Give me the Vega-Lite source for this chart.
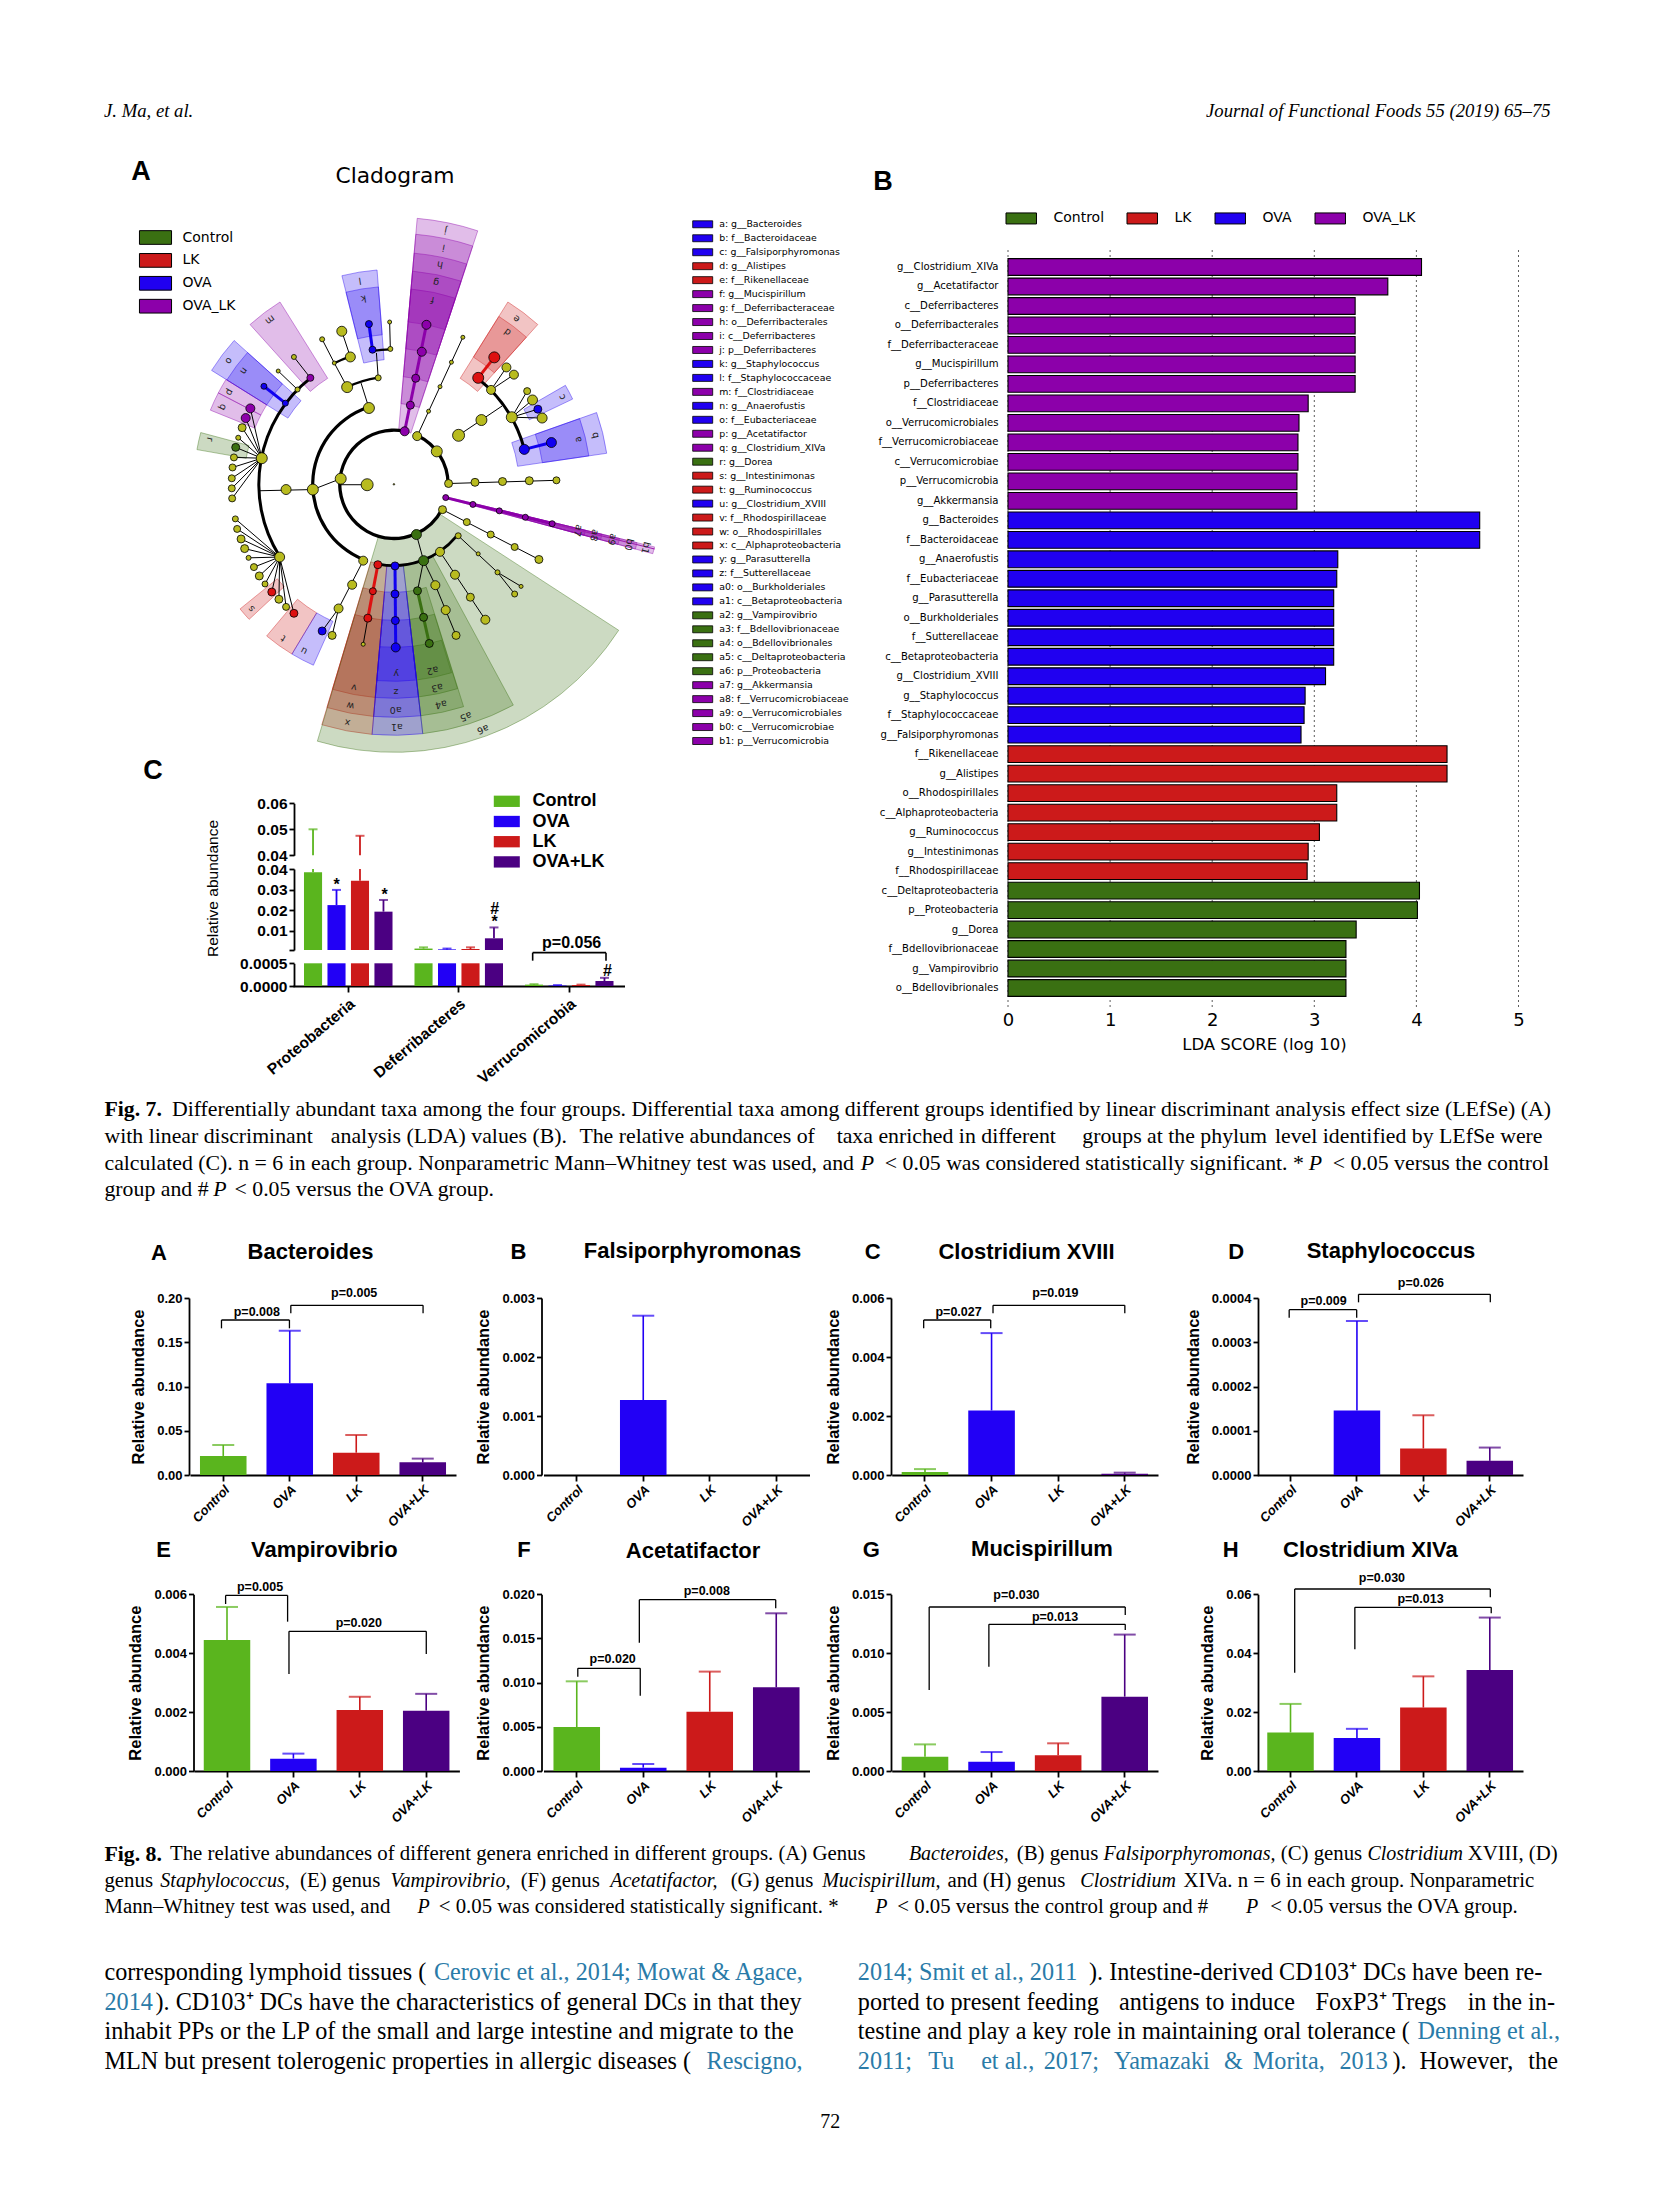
{"$schema":"https://vega.github.io/schema/vega-lite/v6.json","width":1654,"height":2205,"padding":0,"autosize":{"type":"none"},"background":"white",
"config":{"view":{"stroke":null},"axis":{"grid":false,"labelFont":"Liberation Sans","labelFontWeight":"bold","labelFontSize":13,"labelColor":"black","domainColor":"black","tickColor":"black","domainWidth":1.8,"tickWidth":1.8,"tickSize":5,"labelPadding":2,"titleFont":"Liberation Sans","titleFontWeight":"bold","titleFontSize":16.5,"titleColor":"black","titlePadding":10,"labelOverlap":false,"labelFlush":false},"legend":{"padding":0,"symbolOpacity":1}},
"resolve":{"scale":{"x":"independent","y":"independent","xOffset":"independent","color":"independent","stroke":"independent","size":"independent","theta":"independent","radius":"independent","angle":"independent"},"axis":{"x":"independent","y":"independent"},"legend":{"color":"independent"}},
"datasets":{
"fig8":[
{"panel":"A","group":"Control","mean":0.0215,"err":0.0339},{"panel":"A","group":"OVA","mean":0.1036,"err":0.163},{"panel":"A","group":"LK","mean":0.0252,"err":0.0452},{"panel":"A","group":"OVA+LK","mean":0.0143,"err":0.0185},
{"panel":"B","group":"OVA","mean":0.00127,"err":0.0027},
{"panel":"C","group":"Control","mean":0.0001,"err":0.0002},{"panel":"C","group":"OVA","mean":0.00219,"err":0.00481},{"panel":"C","group":"OVA+LK","mean":0.00004,"err":0.00008},
{"panel":"D","group":"OVA","mean":0.000146,"err":0.000348},{"panel":"D","group":"LK","mean":0.00006,"err":0.000135},{"panel":"D","group":"OVA+LK","mean":0.000032,"err":0.000062},
{"panel":"E","group":"Control","mean":0.00445,"err":0.00557},{"panel":"E","group":"OVA","mean":0.00042,"err":0.00059},{"panel":"E","group":"LK","mean":0.00207,"err":0.00252},{"panel":"E","group":"OVA+LK","mean":0.00205,"err":0.00262},
{"panel":"F","group":"Control","mean":0.00498,"err":0.01015},{"panel":"F","group":"OVA","mean":0.00038,"err":0.00079},{"panel":"F","group":"LK","mean":0.00672,"err":0.01125},{"panel":"F","group":"OVA+LK","mean":0.00947,"err":0.01785},
{"panel":"G","group":"Control","mean":0.00122,"err":0.00226},{"panel":"G","group":"OVA","mean":0.00079,"err":0.00161},{"panel":"G","group":"LK","mean":0.00133,"err":0.00235},{"panel":"G","group":"OVA+LK","mean":0.00631,"err":0.01158},
{"panel":"H","group":"Control","mean":0.01308,"err":0.02278},{"panel":"H","group":"OVA","mean":0.01117,"err":0.01432},{"panel":"H","group":"LK","mean":0.02154,"err":0.03214},{"panel":"H","group":"OVA+LK","mean":0.03429,"err":0.0521}],
"phyla":[
{"phylum":"Proteobacteria","group":"Control","mean":0.0384,"err":0.05},{"phylum":"Proteobacteria","group":"OVA","mean":0.0224,"err":0.0298},{"phylum":"Proteobacteria","group":"LK","mean":0.0343,"err":0.0475},{"phylum":"Proteobacteria","group":"OVA+LK","mean":0.0192,"err":0.0249},
{"phylum":"Deferribacteres","group":"Control","mean":0.0012,"err":0.0018},{"phylum":"Deferribacteres","group":"OVA","mean":0.0008,"err":0.0012},{"phylum":"Deferribacteres","group":"LK","mean":0.001,"err":0.0018},{"phylum":"Deferribacteres","group":"OVA+LK","mean":0.0062,"err":0.0115},
{"phylum":"Verrucomicrobia","group":"Control","mean":0.00003,"err":0.00004},{"phylum":"Verrucomicrobia","group":"OVA","mean":0.00001,"err":0.00002},{"phylum":"Verrucomicrobia","group":"LK","mean":0.00002,"err":0.00003},{"phylum":"Verrucomicrobia","group":"OVA+LK","mean":0.00011,"err":0.00018}],
"lda":[
{"taxon":"g__Clostridium_XIVa","lda":4.05,"c":"OVA_LK"},{"taxon":"g__Acetatifactor","lda":3.72,"c":"OVA_LK"},{"taxon":"c__Deferribacteres","lda":3.4,"c":"OVA_LK"},{"taxon":"o__Deferribacterales","lda":3.4,"c":"OVA_LK"},{"taxon":"f__Deferribacteraceae","lda":3.4,"c":"OVA_LK"},{"taxon":"g__Mucispirillum","lda":3.4,"c":"OVA_LK"},{"taxon":"p__Deferribacteres","lda":3.4,"c":"OVA_LK"},{"taxon":"f__Clostridiaceae","lda":2.94,"c":"OVA_LK"},{"taxon":"o__Verrucomicrobiales","lda":2.85,"c":"OVA_LK"},{"taxon":"f__Verrucomicrobiaceae","lda":2.84,"c":"OVA_LK"},{"taxon":"c__Verrucomicrobiae","lda":2.84,"c":"OVA_LK"},{"taxon":"p__Verrucomicrobia","lda":2.83,"c":"OVA_LK"},{"taxon":"g__Akkermansia","lda":2.83,"c":"OVA_LK"},
{"taxon":"g__Bacteroides","lda":4.62,"c":"OVA"},{"taxon":"f__Bacteroidaceae","lda":4.62,"c":"OVA"},{"taxon":"g__Anaerofustis","lda":3.23,"c":"OVA"},{"taxon":"f__Eubacteriaceae","lda":3.22,"c":"OVA"},{"taxon":"g__Parasutterella","lda":3.19,"c":"OVA"},{"taxon":"o__Burkholderiales","lda":3.19,"c":"OVA"},{"taxon":"f__Sutterellaceae","lda":3.19,"c":"OVA"},{"taxon":"c__Betaproteobacteria","lda":3.19,"c":"OVA"},{"taxon":"g__Clostridium_XVIII","lda":3.11,"c":"OVA"},{"taxon":"g__Staphylococcus","lda":2.91,"c":"OVA"},{"taxon":"f__Staphylococcaceae","lda":2.9,"c":"OVA"},{"taxon":"g__Falsiporphyromonas","lda":2.87,"c":"OVA"},
{"taxon":"f__Rikenellaceae","lda":4.3,"c":"LK"},{"taxon":"g__Alistipes","lda":4.3,"c":"LK"},{"taxon":"o__Rhodospirillales","lda":3.22,"c":"LK"},{"taxon":"c__Alphaproteobacteria","lda":3.22,"c":"LK"},{"taxon":"g__Ruminococcus","lda":3.05,"c":"LK"},{"taxon":"g__Intestinimonas","lda":2.94,"c":"LK"},{"taxon":"f__Rhodospirillaceae","lda":2.93,"c":"LK"},
{"taxon":"c__Deltaproteobacteria","lda":4.03,"c":"Control"},{"taxon":"p__Proteobacteria","lda":4.01,"c":"Control"},{"taxon":"g__Dorea","lda":3.41,"c":"Control"},{"taxon":"f__Bdellovibrionaceae","lda":3.31,"c":"Control"},{"taxon":"g__Vampirovibrio","lda":3.31,"c":"Control"},{"taxon":"o__Bdellovibrionales","lda":3.31,"c":"Control"}],
"taxa":[
{"t":"a: g__Bacteroides","c":"OVA"},{"t":"b: f__Bacteroidaceae","c":"OVA"},{"t":"c: g__Falsiporphyromonas","c":"OVA"},{"t":"d: g__Alistipes","c":"LK"},{"t":"e: f__Rikenellaceae","c":"LK"},{"t":"f: g__Mucispirillum","c":"OVA_LK"},{"t":"g: f__Deferribacteraceae","c":"OVA_LK"},{"t":"h: o__Deferribacterales","c":"OVA_LK"},{"t":"i: c__Deferribacteres","c":"OVA_LK"},{"t":"j: p__Deferribacteres","c":"OVA_LK"},{"t":"k: g__Staphylococcus","c":"OVA"},{"t":"l: f__Staphylococcaceae","c":"OVA"},{"t":"m: f__Clostridiaceae","c":"OVA_LK"},{"t":"n: g__Anaerofustis","c":"OVA"},{"t":"o: f__Eubacteriaceae","c":"OVA"},{"t":"p: g__Acetatifactor","c":"OVA_LK"},{"t":"q: g__Clostridium_XIVa","c":"OVA_LK"},{"t":"r: g__Dorea","c":"Control"},{"t":"s: g__Intestinimonas","c":"LK"},{"t":"t: g__Ruminococcus","c":"LK"},{"t":"u: g__Clostridium_XVIII","c":"OVA"},{"t":"v: f__Rhodospirillaceae","c":"LK"},{"t":"w: o__Rhodospirillales","c":"LK"},{"t":"x: c__Alphaproteobacteria","c":"LK"},{"t":"y: g__Parasutterella","c":"OVA"},{"t":"z: f__Sutterellaceae","c":"OVA"},{"t":"a0: o__Burkholderiales","c":"OVA"},{"t":"a1: c__Betaproteobacteria","c":"OVA"},{"t":"a2: g__Vampirovibrio","c":"Control"},{"t":"a3: f__Bdellovibrionaceae","c":"Control"},{"t":"a4: o__Bdellovibrionales","c":"Control"},{"t":"a5: c__Deltaproteobacteria","c":"Control"},{"t":"a6: p__Proteobacteria","c":"Control"},{"t":"a7: g__Akkermansia","c":"OVA_LK"},{"t":"a8: f__Verrucomicrobiaceae","c":"OVA_LK"},{"t":"a9: o__Verrucomicrobiales","c":"OVA_LK"},{"t":"b0: c__Verrucomicrobiae","c":"OVA_LK"},{"t":"b1: p__Verrucomicrobia","c":"OVA_LK"}],
"wedges":[
{"c":"LK","t1":185,"t2":196.7,"r1":81,"r2":251},{"c":"LK","t1":185,"t2":196.7,"r1":108,"r2":233},{"c":"LK","t1":185,"t2":196.7,"r1":136,"r2":214},
{"c":"Control","t1":123,"t2":196.6,"r1":54,"r2":268},{"c":"Control","t1":151.6,"t2":173.4,"r1":81,"r2":251},{"c":"Control","t1":162.6,"t2":173.4,"r1":108,"r2":233},{"c":"Control","t1":162.7,"t2":173.4,"r1":136,"r2":214},{"c":"Control","t1":163,"t2":173.4,"r1":163,"r2":197},
{"c":"OVA","t1":173.4,"t2":185,"r1":81,"r2":251},{"c":"OVA","t1":173.4,"t2":185,"r1":108,"r2":233},{"c":"OVA","t1":173.4,"t2":185,"r1":136,"r2":214},{"c":"OVA","t1":173.4,"t2":185,"r1":163,"r2":197},
{"c":"OVA_LK","t1":5,"t2":18.3,"r1":54,"r2":267},{"c":"OVA_LK","t1":5,"t2":18.3,"r1":81,"r2":251},{"c":"OVA_LK","t1":5,"t2":18.3,"r1":108,"r2":232},{"c":"OVA_LK","t1":5,"t2":18.3,"r1":136,"r2":214},{"c":"OVA_LK","t1":5,"t2":18.3,"r1":163,"r2":196},
{"c":"LK","t1":32,"t2":42,"r1":125,"r2":215},{"c":"LK","t1":32,"t2":42,"r1":150,"r2":198},
{"c":"OVA","t1":-14,"t2":-4.5,"r1":125,"r2":215},{"c":"OVA","t1":-14,"t2":-4.5,"r1":150,"r2":198},
{"c":"OVA_LK","t1":-42,"t2":-32,"r1":125,"r2":215},
{"c":"OVA","t1":-58,"t2":-48,"r1":125,"r2":215},{"c":"OVA","t1":-58,"t2":-48,"r1":150,"r2":197},
{"c":"OVA_LK","t1":-62.5,"t2":-58,"r1":150,"r2":198},{"c":"OVA_LK","t1":-68,"t2":-62.5,"r1":150,"r2":198},
{"c":"Control","t1":-80,"t2":-75,"r1":150,"r2":200},
{"c":"LK","t1":227,"t2":231,"r1":150,"r2":198},{"c":"LK","t1":211,"t2":220,"r1":150,"r2":198},{"c":"OVA","t1":204,"t2":211,"r1":150,"r2":198},
{"c":"OVA","t1":60,"t2":64.5,"r1":150,"r2":198},
{"c":"OVA","t1":70.5,"t2":81.7,"r1":125,"r2":215},{"c":"OVA","t1":70.5,"t2":81.7,"r1":150,"r2":197},
{"c":"OVA_LK","t1":103.5,"t2":105,"r1":54,"r2":268},{"c":"OVA_LK","t1":103.5,"t2":105,"r1":81,"r2":250},{"c":"OVA_LK","t1":103.5,"t2":105,"r1":108,"r2":232},{"c":"OVA_LK","t1":103.5,"t2":105,"r1":136,"r2":214},{"c":"OVA_LK","t1":103.5,"t2":105,"r1":163,"r2":197}],
"rings":[
{"t1":156,"t2":371,"r1":52.5,"r2":55.8},{"t1":117,"t2":156,"r1":52.5,"r2":55.8},{"t1":25.6,"t2":90,"r1":52.5,"r2":55.8},
{"t1":202,"t2":341,"r1":79.6,"r2":82.8},{"t1":130,"t2":191,"r1":79.8,"r2":82.6},
{"t1":238,"t2":322,"r1":133.6,"r2":136.6},{"t1":38,"t2":75,"r1":133.6,"r2":136.6},
{"t1":-25.7,"t2":-8.4,"r1":106.6,"r2":109},{"t1":-9,"t2":-1.5,"r1":134,"r2":136.2},{"t1":-26,"t2":-19,"r1":134,"r2":136.2}],
"edges":[
{"x":832,"y":737,"x2":960,"y2":491},{"x":948,"y":735,"x2":1070,"y2":662},{"x":1097,"y":690,"x2":1140,"y2":625},{"x":1097,"y":690,"x2":1155,"y2":647},{"x":1097,"y":690,"x2":1170,"y2":670},{"x":1097,"y":690,"x2":1182,"y2":692},{"x":1039,"y":622,"x2":1082,"y2":566},{"x":1039,"y":622,"x2":1103,"y2":584},{"x":1003,"y":592,"x2":1039,"y2":622},
{"x":920,"y":855,"x2":1222,"y2":847},{"x":903,"y":920,"x2":1173,"y2":1044},{"x":947,"y":985,"x2":1057,"y2":1076},{"x":1057,"y":1076,"x2":1105,"y2":1130},{"x":1057,"y":1076,"x2":1123,"y2":1111},{"x":896,"y":1025,"x2":1023,"y2":1194},{"x":883,"y":1108,"x2":941,"y2":1233},{"x":850,"y":1047,"x2":883,"y2":1108},{"x":830,"y":982,"x2":850,"y2":1047},{"x":850,"y":1047,"x2":833,"y2":1122},
{"x":681,"y":1047,"x2":612,"y2":1166},{"x":612,"y":1166,"x2":566,"y2":1222},{"x":612,"y":1166,"x2":594,"y2":1233},{"x":694,"y":1190,"x2":681,"y2":1255},
{"x":397,"y":792,"x2":342,"y2":716},{"x":397,"y":792,"x2":331,"y2":741},{"x":397,"y":792,"x2":324,"y2":765},{"x":397,"y":792,"x2":319,"y2":790},{"x":397,"y":792,"x2":315,"y2":815},{"x":397,"y":792,"x2":313,"y2":842},{"x":397,"y":792,"x2":313,"y2":867},{"x":397,"y":792,"x2":314,"y2":892},{"x":397,"y":792,"x2":352,"y2":692},{"x":397,"y":792,"x2":365,"y2":668},
{"x":390,"y":873,"x2":540,"y2":870},{"x":540,"y":870,"x2":618,"y2":843},{"x":618,"y":858,"x2":692,"y2":858},
{"x":447,"y":1038,"x2":323,"y2":943},{"x":447,"y":1038,"x2":328,"y2":968},{"x":447,"y":1038,"x2":339,"y2":993},{"x":447,"y":1038,"x2":349,"y2":1017},{"x":447,"y":1038,"x2":360,"y2":1040},{"x":447,"y":1038,"x2":375,"y2":1063},{"x":447,"y":1038,"x2":390,"y2":1085},{"x":447,"y":1038,"x2":406,"y2":1105},{"x":447,"y":1038,"x2":425,"y2":1125},{"x":447,"y":1038,"x2":445,"y2":1143},{"x":447,"y":1038,"x2":465,"y2":1162},{"x":447,"y":1038,"x2":487,"y2":1178},
{"x":497,"y":621,"x2":443,"y2":575},{"x":533,"y":592,"x2":487,"y2":540},{"x":497,"y":621,"x2":463,"y2":655},{"x":697,"y":667,"x2":675,"y2":605},{"x":723,"y":592,"x2":718,"y2":530},{"x":757,"y":520,"x2":755,"y2":453},{"x":636,"y":615,"x2":600,"y2":555},{"x":600,"y":555,"x2":566,"y2":496},{"x":645,"y":540,"x2":621,"y2":476}],
"thick":[
{"c":"OVA_LK","x":797,"y":725,"x2":858,"y2":460},{"c":"OVA_LK","x":912,"y":890,"x2":1210,"y2":955},{"c":"LK","x":722,"y":1057,"x2":694,"y2":1190},{"c":"OVA","x":770,"y":1060,"x2":772,"y2":1263},{"c":"Control","x":833,"y":1122,"x2":866,"y2":1253},{"c":"LK","x":1003,"y":592,"x2":1048,"y2":541},{"c":"OVA","x":1132,"y":770,"x2":1208,"y2":753},{"c":"OVA","x":403,"y":613,"x2":463,"y2":655},{"c":"OVA","x":697,"y":458,"x2":707,"y2":522}],
"nodes":[
{"x":767,"y":857,"d":1.5,"c":"none"},{"x":692,"y":858,"d":12,"c":"none"},{"x":618,"y":843,"d":11,"c":"none"},{"x":540,"y":870,"d":11,"c":"none"},{"x":465,"y":870,"d":10,"c":"none"},{"x":397,"y":792,"d":11,"c":"none"},{"x":342,"y":716,"d":8,"c":"none"},{"x":331,"y":741,"d":5,"c":"none"},{"x":319,"y":790,"d":7,"c":"none"},{"x":315,"y":815,"d":7,"c":"none"},{"x":313,"y":842,"d":7,"c":"none"},{"x":313,"y":867,"d":7,"c":"none"},{"x":314,"y":892,"d":7,"c":"none"},{"x":323,"y":943,"d":6,"c":"none"},{"x":328,"y":968,"d":7,"c":"none"},{"x":339,"y":993,"d":8,"c":"none"},{"x":349,"y":1017,"d":8,"c":"none"},{"x":360,"y":1040,"d":5,"c":"none"},{"x":375,"y":1063,"d":7,"c":"none"},{"x":390,"y":1085,"d":8,"c":"none"},{"x":406,"y":1105,"d":6,"c":"none"},{"x":445,"y":1143,"d":8,"c":"none"},{"x":465,"y":1162,"d":7,"c":"none"},{"x":447,"y":1038,"d":10,"c":"none"},{"x":681,"y":1047,"d":9,"c":"none"},{"x":650,"y":1107,"d":9,"c":"none"},{"x":612,"y":1166,"d":9,"c":"none"},{"x":594,"y":1233,"d":8,"c":"none"},{"x":681,"y":1255,"d":4,"c":"none"},{"x":497,"y":621,"d":5,"c":"none"},{"x":443,"y":575,"d":4,"c":"none"},{"x":487,"y":540,"d":5,"c":"none"},{"x":697,"y":667,"d":11,"c":"none"},{"x":636,"y":615,"d":11,"c":"none"},{"x":723,"y":592,"d":6,"c":"none"},{"x":600,"y":555,"d":4,"c":"none"},{"x":566,"y":496,"d":5,"c":"none"},{"x":645,"y":540,"d":10,"c":"none"},{"x":621,"y":476,"d":10,"c":"none"},{"x":757,"y":520,"d":5,"c":"none"},{"x":755,"y":453,"d":4,"c":"none"},{"x":832,"y":737,"d":9,"c":"none"},{"x":864,"y":675,"d":4,"c":"none"},{"x":896,"y":614,"d":4,"c":"none"},{"x":928,"y":553,"d":4,"c":"none"},{"x":960,"y":491,"d":4,"c":"none"},{"x":887,"y":775,"d":11,"c":"none"},{"x":948,"y":735,"d":12,"c":"none"},{"x":1012,"y":697,"d":11,"c":"none"},{"x":1097,"y":690,"d":11,"c":"none"},{"x":1039,"y":622,"d":9,"c":"none"},{"x":1082,"y":566,"d":9,"c":"none"},{"x":1103,"y":584,"d":9,"c":"none"},{"x":1140,"y":625,"d":7,"c":"none"},{"x":1155,"y":647,"d":10,"c":"none"},{"x":1182,"y":692,"d":10,"c":"none"},{"x":920,"y":855,"d":8,"c":"none"},{"x":994,"y":852,"d":8,"c":"none"},{"x":1071,"y":850,"d":8,"c":"none"},{"x":1146,"y":848,"d":8,"c":"none"},{"x":1222,"y":847,"d":7,"c":"none"},{"x":903,"y":920,"d":8,"c":"none"},{"x":971,"y":951,"d":7,"c":"none"},{"x":1038,"y":982,"d":7,"c":"none"},{"x":1105,"y":1013,"d":7,"c":"none"},{"x":1173,"y":1044,"d":8,"c":"none"},{"x":896,"y":1025,"d":9,"c":"none"},{"x":947,"y":985,"d":6,"c":"none"},{"x":1003,"y":1030,"d":4,"c":"none"},{"x":1057,"y":1076,"d":5,"c":"none"},{"x":1105,"y":1130,"d":6,"c":"none"},{"x":1123,"y":1111,"d":4,"c":"none"},{"x":938,"y":1082,"d":9,"c":"none"},{"x":981,"y":1138,"d":8,"c":"none"},{"x":1023,"y":1194,"d":9,"c":"none"},{"x":883,"y":1108,"d":9,"c":"none"},{"x":912,"y":1170,"d":9,"c":"none"},{"x":941,"y":1233,"d":8,"c":"none"},
{"x":830,"y":982,"d":10,"c":"Control"},{"x":850,"y":1047,"d":10,"c":"Control"},{"x":833,"y":1122,"d":8,"c":"Control"},{"x":850,"y":1188,"d":8,"c":"Control"},{"x":866,"y":1253,"d":8,"c":"Control"},{"x":324,"y":765,"d":8,"c":"Control"},
{"x":722,"y":1057,"d":8,"c":"LK"},{"x":708,"y":1123,"d":7,"c":"LK"},{"x":694,"y":1190,"d":8,"c":"LK"},{"x":1003,"y":592,"d":11,"c":"LK"},{"x":1048,"y":541,"d":11,"c":"LK"},{"x":425,"y":1125,"d":8,"c":"LK"},{"x":487,"y":1178,"d":8,"c":"LK"},
{"x":770,"y":1060,"d":8,"c":"OVA"},{"x":770,"y":1130,"d":8,"c":"OVA"},{"x":771,"y":1196,"d":8,"c":"OVA"},{"x":772,"y":1263,"d":9,"c":"OVA"},{"x":1132,"y":770,"d":10,"c":"OVA"},{"x":1208,"y":753,"d":10,"c":"OVA"},{"x":1170,"y":670,"d":8,"c":"OVA"},{"x":463,"y":655,"d":6,"c":"OVA"},{"x":403,"y":613,"d":6,"c":"OVA"},{"x":697,"y":458,"d":7,"c":"OVA"},{"x":707,"y":522,"d":7,"c":"OVA"},{"x":566,"y":1222,"d":8,"c":"OVA"},
{"x":797,"y":725,"d":9,"c":"OVA_LK"},{"x":813,"y":660,"d":8,"c":"OVA_LK"},{"x":828,"y":593,"d":8,"c":"OVA_LK"},{"x":845,"y":527,"d":9,"c":"OVA_LK"},{"x":858,"y":460,"d":9,"c":"OVA_LK"},{"x":912,"y":890,"d":6,"c":"OVA_LK"},{"x":988,"y":907,"d":6,"c":"OVA_LK"},{"x":1062,"y":923,"d":6,"c":"OVA_LK"},{"x":1135,"y":939,"d":6,"c":"OVA_LK"},{"x":1210,"y":955,"d":6,"c":"OVA_LK"},{"x":533,"y":592,"d":7,"c":"OVA_LK"},{"x":365,"y":668,"d":9,"c":"OVA_LK"},{"x":352,"y":692,"d":9,"c":"OVA_LK"}],
"wlabels":[
{"t":"j","x":912,"y":225,"th":11},{"t":"i","x":906,"y":268,"th":11},{"t":"h","x":896,"y":310,"th":11},{"t":"g","x":885,"y":355,"th":11},{"t":"f","x":875,"y":398,"th":11},{"t":"e","x":1110,"y":445,"th":37},{"t":"d","x":1085,"y":478,"th":37},{"t":"l","x":672,"y":350,"th":-9},{"t":"k","x":682,"y":395,"th":-9},{"t":"m","x":420,"y":448,"th":-37},{"t":"n","x":347,"y":575,"th":-53},{"t":"o","x":305,"y":550,"th":-53},{"t":"p","x":307,"y":628,"th":-60},{"t":"q","x":288,"y":665,"th":-65},{"t":"r","x":252,"y":745,"th":-78},{"t":"c","x":1238,"y":640,"th":62},{"t":"a","x":1283,"y":745,"th":76},{"t":"b","x":1330,"y":735,"th":76},{"t":"s","x":368,"y":1167,"th":229},{"t":"t","x":457,"y":1240,"th":216},{"t":"u","x":515,"y":1272,"th":208},{"t":"v","x":655,"y":1363,"th":191},{"t":"w","x":645,"y":1408,"th":191},{"t":"x","x":637,"y":1450,"th":191},{"t":"y","x":773,"y":1328,"th":180},{"t":"z","x":773,"y":1373,"th":180},{"t":"a0","x":772,"y":1418,"th":180},{"t":"a1","x":775,"y":1462,"th":180},{"t":"a2","x":875,"y":1320,"th":168},{"t":"a3","x":888,"y":1363,"th":168},{"t":"a4","x":899,"y":1405,"th":168},{"t":"a5","x":968,"y":1435,"th":162},{"t":"a6","x":1016,"y":1467,"th":160},{"t":"a7","x":1282,"y":972,"th":104},{"t":"a8","x":1328,"y":984,"th":104},{"t":"a9","x":1378,"y":994,"th":104},{"t":"b0","x":1425,"y":1007,"th":104},{"t":"b1","x":1472,"y":1015,"th":104}]
},
"layer":[
{"data":{"values":[{"x":104,"y":111,"t":"J. Ma, et al."},{"x":1206,"y":111,"t":"Journal of Functional Foods 55 (2019) 65–75"}]},"mark":{"type":"text","font":"Liberation Serif","fontStyle":"italic","fontSize":18.7,"align":"left","baseline":"middle","color":"black"},"encoding":{"x":{"field":"x","type":"quantitative","scale":{"domain":[0,1654],"range":[0,1654]},"axis":null},"y":{"field":"y","type":"quantitative","scale":{"domain":[0,2205],"range":[0,2205]},"axis":null},"text":{"field":"t"}}},
{"data":{"values":[{"x":141,"y":172,"t":"A"},{"x":883,"y":182,"t":"B"},{"x":153,"y":771,"t":"C"}]},"mark":{"type":"text","font":"Liberation Sans","fontWeight":"bold","fontSize":27,"align":"center","baseline":"middle","color":"black"},"encoding":{"x":{"field":"x","type":"quantitative","scale":{"domain":[0,1654],"range":[0,1654]},"axis":null},"y":{"field":"y","type":"quantitative","scale":{"domain":[0,2205],"range":[0,2205]},"axis":null},"text":{"field":"t"}}},
{"data":{"values":[{"x":395,"y":176,"t":"Cladogram"}]},"mark":{"type":"text","font":"DejaVu Sans","fontSize":21.8,"align":"center","baseline":"middle","color":"black"},"encoding":{"x":{"field":"x","type":"quantitative","scale":{"domain":[0,1654],"range":[0,1654]},"axis":null},"y":{"field":"y","type":"quantitative","scale":{"domain":[0,2205],"range":[0,2205]},"axis":null},"text":{"field":"t"}}},
{"data":{"values":[{"x":159,"y":1253,"t":"A"},{"x":518.5,"y":1252,"t":"B"},{"x":872.7,"y":1252,"t":"C"},{"x":1236.3,"y":1252,"t":"D"},{"x":163.6,"y":1550,"t":"E"},{"x":524,"y":1550,"t":"F"},{"x":871.3,"y":1550,"t":"G"},{"x":1230.8,"y":1550,"t":"H"},{"x":310.5,"y":1252,"t":"Bacteroides"},{"x":692.5,"y":1251,"t":"Falsiporphyromonas"},{"x":1026.5,"y":1252,"t":"Clostridium XVIII"},{"x":1391,"y":1251,"t":"Staphylococcus"},{"x":324.3,"y":1550,"t":"Vampirovibrio"},{"x":693,"y":1551,"t":"Acetatifactor"},{"x":1042,"y":1549,"t":"Mucispirillum"},{"x":1370.4,"y":1550,"t":"Clostridium XIVa"}]},"mark":{"type":"text","font":"Liberation Sans","fontWeight":"bold","fontSize":22,"align":"center","baseline":"middle","color":"black"},"encoding":{"x":{"field":"x","type":"quantitative","scale":{"domain":[0,1654],"range":[0,1654]},"axis":null},"y":{"field":"y","type":"quantitative","scale":{"domain":[0,2205],"range":[0,2205]},"axis":null},"text":{"field":"t"}}},

{"data":{"name":"wedges"},"mark":{"type":"arc","fillOpacity":0.26,"strokeOpacity":0.4,"strokeWidth":1},"encoding":{"x":{"datum":767,"type":"quantitative","scale":{"domain":[0,1568],"range":[120,680]},"axis":null},"y":{"datum":857,"type":"quantitative","scale":{"domain":[0,1568],"range":[140,770]},"axis":null},"theta":{"field":"t1","type":"quantitative","stack":null,"scale":{"domain":[0,360],"range":[0,6.28319]}},"theta2":{"field":"t2"},"radius":{"field":"r1","type":"quantitative","scale":{"type":"linear","domain":[0,400],"range":[0,400]}},"radius2":{"field":"r2"},"color":{"field":"c","type":"nominal","scale":{"domain":["Control","LK","OVA","OVA_LK"],"range":["#3a7012","#cc1a1a","#2000f0","#8c00aa"]},"legend":null},"stroke":{"field":"c","type":"nominal","scale":{"domain":["Control","LK","OVA","OVA_LK"],"range":["#3a7012","#cc1a1a","#2000f0","#8c00aa"]},"legend":null}}},
{"data":{"name":"rings"},"mark":{"type":"arc","color":"black"},"encoding":{"x":{"datum":767,"type":"quantitative","scale":{"domain":[0,1568],"range":[120,680]},"axis":null},"y":{"datum":857,"type":"quantitative","scale":{"domain":[0,1568],"range":[140,770]},"axis":null},"theta":{"field":"t1","type":"quantitative","stack":null,"scale":{"domain":[0,360],"range":[0,6.28319]}},"theta2":{"field":"t2"},"radius":{"field":"r1","type":"quantitative","scale":{"type":"linear","domain":[0,400],"range":[0,400]}},"radius2":{"field":"r2"}}},
{"data":{"name":"edges"},"mark":{"type":"rule","color":"black","strokeWidth":1},"encoding":{"x":{"field":"x","type":"quantitative","scale":{"domain":[0,1568],"range":[120,680]},"axis":null},"y":{"field":"y","type":"quantitative","scale":{"domain":[0,1568],"range":[140,770]},"axis":null},"x2":{"field":"x2"},"y2":{"field":"y2"}}},
{"data":{"values":[{"x":1210,"y":955,"x2":1497,"y2":1018}]},"mark":{"type":"rule","color":"#a020b0","strokeWidth":1.2},"encoding":{"x":{"field":"x","type":"quantitative","scale":{"domain":[0,1568],"range":[120,680]},"axis":null},"y":{"field":"y","type":"quantitative","scale":{"domain":[0,1568],"range":[140,770]},"axis":null},"x2":{"field":"x2"},"y2":{"field":"y2"}}},
{"data":{"name":"thick"},"mark":{"type":"rule","strokeWidth":3},"encoding":{"x":{"field":"x","type":"quantitative","scale":{"domain":[0,1568],"range":[120,680]},"axis":null},"y":{"field":"y","type":"quantitative","scale":{"domain":[0,1568],"range":[140,770]},"axis":null},"x2":{"field":"x2"},"y2":{"field":"y2"},"color":{"field":"c","type":"nominal","scale":{"domain":["Control","LK","OVA","OVA_LK"],"range":["#3a7012","#dd1111","#1000f0","#8c00aa"]},"legend":null}}},
{"data":{"name":"nodes"},"mark":{"type":"point","filled":true,"opacity":1,"stroke":"black","strokeWidth":0.8},"encoding":{"x":{"field":"x","type":"quantitative","scale":{"domain":[0,1568],"range":[120,680]},"axis":null},"y":{"field":"y","type":"quantitative","scale":{"domain":[0,1568],"range":[140,770]},"axis":null},"size":{"field":"d","type":"quantitative","scale":{"type":"pow","exponent":2,"domain":[0,20],"range":[0,400]},"legend":null},"color":{"field":"c","type":"nominal","scale":{"domain":["Control","LK","OVA","OVA_LK","none"],"range":["#3a7012","#dd1111","#1000f0","#8c00aa","#b8bb1f"]},"legend":null},"shape":{"value":"circle"}}},
{"data":{"name":"wlabels"},"mark":{"type":"text","font":"DejaVu Sans","fontSize":9.5,"align":"center","baseline":"middle","color":"#222222"},"encoding":{"x":{"field":"x","type":"quantitative","scale":{"domain":[0,1568],"range":[120,680]},"axis":null},"y":{"field":"y","type":"quantitative","scale":{"domain":[0,1568],"range":[140,770]},"axis":null},"text":{"field":"t"},"angle":{"field":"th","type":"quantitative","scale":{"domain":[-90,90,90.01,270],"range":[90,270,90,270]}}}},

{"data":{"name":"taxa"},"encoding":{"y":{"field":"t","type":"nominal","sort":null,"scale":{"type":"band","range":[217.3,748],"paddingInner":0.5,"paddingOuter":0.25},"axis":null},"x":{"datum":1,"type":"quantitative","scale":{"domain":[0,1],"range":[692.7,712.7]},"axis":null}},"layer":[
{"mark":{"type":"bar","stroke":"black","strokeWidth":0.8},"encoding":{"color":{"field":"c","type":"nominal","scale":{"domain":["Control","LK","OVA","OVA_LK"],"range":["#3a7012","#cc1a1a","#2000f0","#8c00aa"]},"legend":{"orient":"none","legendX":148,"legendY":230,"title":null,"symbolType":"M-2.34,-1H2.34V1H-2.34Z","symbolSize":188,"symbolStrokeColor":"black","symbolStrokeWidth":1,"labelFont":"DejaVu Sans","labelFontSize":14,"labelColor":"black","labelOffset":19.5,"rowPadding":3.9}}}},
{"mark":{"type":"text","font":"DejaVu Sans","fontSize":9.4,"align":"left","baseline":"middle","dx":6.5,"color":"black"},"encoding":{"text":{"field":"t"}}}]},

{"data":{"values":[{"v":0},{"v":1},{"v":2},{"v":3},{"v":4},{"v":5}]},"mark":{"type":"rule","color":"#333333","strokeWidth":0.8,"strokeDash":[2,3]},"encoding":{"x":{"field":"v","type":"quantitative","scale":{"domain":[0,5],"range":[1008,1518.5]},"axis":{"orient":"bottom","offset":-1198,"title":"LDA SCORE (log 10)","titleX":1264,"values":[0,1,2,3,4,5],"format":"d","domain":false,"ticks":false,"labelFont":"DejaVu Sans","labelFontWeight":"normal","labelFontSize":18,"labelPadding":4,"titleFont":"DejaVu Sans","titleFontWeight":"normal","titleFontSize":16.5,"titlePadding":7}},"y":{"datum":0,"type":"quantitative","scale":{"domain":[0,1],"range":[1007,248]},"axis":null},"y2":{"datum":1}}},
{"data":{"name":"lda"},"mark":{"type":"bar","stroke":"black","strokeWidth":1.1},"encoding":{"x":{"field":"lda","type":"quantitative","stack":null,"scale":{"domain":[0,5],"range":[1008,1518.5]},"axis":null},"y":{"field":"taxon","type":"nominal","sort":null,"scale":{"type":"band","range":[257.25,997.75],"paddingInner":0.14,"paddingOuter":0.07},"axis":{"orient":"left","offset":-1008,"title":null,"domain":false,"ticks":false,"labelPadding":10,"labelFont":"DejaVu Sans","labelFontWeight":"normal","labelFontSize":10.1}},"color":{"field":"c","type":"nominal","scale":{"domain":["Control","LK","OVA","OVA_LK"],"range":["#3a7012","#cc1a1a","#2000f0","#8c00aa"]},"legend":{"orient":"none","legendX":1014.25,"legendY":211.2,"title":null,"direction":"horizontal","columns":4,"columnPadding":20,"symbolType":"M-2.77,-1H2.77V1H-2.77Z","symbolSize":121,"symbolStrokeColor":"black","symbolStrokeWidth":1,"labelFont":"DejaVu Sans","labelFontSize":14,"labelColor":"black","labelOffset":25.2}}}},

{"data":{"name":"phyla"},"encoding":{"x":{"field":"phylum","type":"nominal","sort":null,"scale":{"type":"band","domain":["Proteobacteria","Deferribacteres","Verrucomicrobia"],"range":[293,624.5],"paddingInner":0.15,"paddingOuter":0.075},"axis":null},"xOffset":{"field":"group","type":"nominal","scale":{"domain":["Control","OVA","LK","OVA+LK"],"paddingInner":0.23,"paddingOuter":0.115}},"color":{"field":"group","type":"nominal","scale":{"domain":["Control","OVA","LK","OVA+LK"],"range":["#5ab51e","#2200f5","#cc1a1a","#4b0082"]},"legend":null},"y":{"field":"mean","type":"quantitative","scale":{"domain":[0.04,0.06],"range":[855.3,803.3],"clamp":true},"axis":{"orient":"left","offset":-294,"title":null,"values":[0.04,0.05,0.06],"format":".2f","labelFontSize":15.5}}},"layer":[
{"transform":[{"filter":"datum.err>0.04"}],"mark":{"type":"rule","strokeWidth":1.8},"encoding":{"y2":{"field":"err"}}},
{"transform":[{"filter":"datum.err>0.04"}],"mark":{"type":"tick","size":9,"thickness":2},"encoding":{"y":{"field":"err","type":"quantitative","scale":{"domain":[0.04,0.06],"range":[855.3,803.3],"clamp":true},"axis":{"orient":"left","offset":-294,"title":null,"values":[0.04,0.05,0.06],"format":".2f","labelFontSize":15.5}}}}]},
{"data":{"name":"phyla"},"encoding":{"x":{"field":"phylum","type":"nominal","sort":null,"scale":{"type":"band","domain":["Proteobacteria","Deferribacteres","Verrucomicrobia"],"range":[293,624.5],"paddingInner":0.15,"paddingOuter":0.075},"axis":null},"xOffset":{"field":"group","type":"nominal","scale":{"domain":["Control","OVA","LK","OVA+LK"],"paddingInner":0.23,"paddingOuter":0.115}},"color":{"field":"group","type":"nominal","scale":{"domain":["Control","OVA","LK","OVA+LK"],"range":["#5ab51e","#2200f5","#cc1a1a","#4b0082"]},"legend":null},"y":{"field":"mean","type":"quantitative","scale":{"domain":[0.0005,0.04],"range":[950,869],"clamp":true},"axis":{"orient":"left","offset":-294,"title":"Relative abundance","titleFontWeight":"normal","titleFontSize":15.5,"titleY":888,"titlePadding":36,"values":[0.0005,0.01,0.02,0.03,0.04],"labelExpr":"datum.value<0.005?'':format(datum.value,'.2f')","labelFontSize":15.5}}},"layer":[
{"transform":[{"filter":"datum.err>0.0005"}],"mark":{"type":"rule","strokeWidth":1.8},"encoding":{"y2":{"field":"err"}}},
{"transform":[{"filter":"datum.err>0.0005&&datum.err<=0.04"}],"mark":{"type":"tick","size":9,"thickness":2},"encoding":{"y":{"field":"err","type":"quantitative","scale":{"domain":[0.0005,0.04],"range":[950,869],"clamp":true},"axis":{"orient":"left","offset":-294,"title":"Relative abundance","titleFontWeight":"normal","titleFontSize":15.5,"titleY":888,"titlePadding":36,"values":[0.0005,0.01,0.02,0.03,0.04],"labelExpr":"datum.value<0.005?'':format(datum.value,'.2f')","labelFontSize":15.5}}}},
{"transform":[{"filter":"datum.mean>0.0005"}],"mark":{"type":"bar"},"encoding":{"y2":{"datum":0.0005}}}]},
{"data":{"name":"phyla"},"encoding":{"x":{"field":"phylum","type":"nominal","sort":null,"scale":{"type":"band","domain":["Proteobacteria","Deferribacteres","Verrucomicrobia"],"range":[293,624.5],"paddingInner":0.15,"paddingOuter":0.075},"axis":{"orient":"bottom","offset":-1219,"title":null,"labelAngle":-40,"labelFontSize":15.5,"tickSize":6,"labelPadding":4}},"xOffset":{"field":"group","type":"nominal","scale":{"domain":["Control","OVA","LK","OVA+LK"],"paddingInner":0.23,"paddingOuter":0.115}},"color":{"field":"group","type":"nominal","scale":{"domain":["Control","OVA","LK","OVA+LK"],"range":["#5ab51e","#2200f5","#cc1a1a","#4b0082"]},"legend":{"orient":"none","legendX":497.8,"legendY":792.3,"title":null,"symbolType":"M-2.3,-1H2.3V1H-2.3Z","symbolSize":128,"symbolStrokeWidth":0,"labelFont":"Liberation Sans","labelFontWeight":"bold","labelFontSize":18,"labelColor":"black","labelOffset":16.6,"rowPadding":2.2}},"y":{"field":"mean","type":"quantitative","scale":{"domain":[0,0.0005],"range":[986,963.3],"clamp":true},"axis":{"orient":"left","offset":-294,"title":null,"values":[0,0.0005],"format":".4f","labelFontSize":15.5}}},"layer":[
{"transform":[{"filter":"datum.err<=0.0005"}],"mark":{"type":"rule","strokeWidth":1.8},"encoding":{"y2":{"field":"err"}}},
{"transform":[{"filter":"datum.err<=0.0005"}],"mark":{"type":"tick","size":9,"thickness":2},"encoding":{"y":{"field":"err","type":"quantitative","scale":{"domain":[0,0.0005],"range":[986,963.3],"clamp":true},"axis":{"orient":"left","offset":-294,"title":null,"values":[0,0.0005],"format":".4f","labelFontSize":15.5}}}},
{"mark":{"type":"bar"},"encoding":{"y2":{"datum":0}}}]},
{"encoding":{"x":{"field":"x","type":"quantitative","scale":{"domain":[0,1560],"range":[130,650]},"axis":null},"y":{"field":"y","type":"quantitative","scale":{"domain":[0,1020],"range":[750,1090]},"axis":null}},"layer":[
{"data":{"values":[{"x":1208,"y":632,"x2":1208,"y2":608},{"x":1208,"y":608,"x2":1428,"y2":608},{"x":1428,"y":608,"x2":1428,"y2":632}]},"mark":{"type":"rule","color":"black","strokeWidth":1.6},"encoding":{"x2":{"field":"x2"},"y2":{"field":"y2"}}},
{"data":{"values":[{"x":620,"y":404,"t":"*"},{"x":764,"y":434,"t":"*"},{"x":1094,"y":478,"t":"#"},{"x":1094,"y":516,"t":"*"},{"x":1325,"y":580,"t":"p=0.056"},{"x":1432,"y":663,"t":"#"}]},"mark":{"type":"text","font":"Liberation Sans","fontWeight":"bold","fontSize":16,"align":"center","baseline":"middle","color":"black"},"encoding":{"text":{"field":"t"}}}]},

{"data":{"name":"fig8"},"transform":[{"filter":"datum.panel==='A'"}],"encoding":{"x":{"field":"group","type":"nominal","scale":{"type":"band","domain":["Control","OVA","LK","OVA+LK"],"range":[190,456],"paddingInner":0.3,"paddingOuter":0.15},"axis":{"orient":"bottom","offset":-730,"title":null,"labelAngle":-45,"labelFontStyle":"italic","labelFontSize":13,"tickSize":6}},"y":{"field":"mean","type":"quantitative","stack":null,"scale":{"domain":[0,0.2],"range":[1475,1298]},"axis":{"orient":"left","offset":-189,"title":"Relative abundance","values":[0,0.05,0.1,0.15,0.2],"format":".2f"}},"color":{"field":"group","type":"nominal","scale":{"domain":["Control","OVA","LK","OVA+LK"],"range":["#5ab51e","#2200f5","#cc1a1a","#4b0082"]},"legend":null}},"layer":[{"mark":{"type":"rule","strokeWidth":1.6},"encoding":{"y2":{"field":"err"}}},{"mark":{"type":"tick","size":22,"thickness":2},"encoding":{"y":{"field":"err","type":"quantitative","scale":{"domain":[0,0.2],"range":[1475,1298]},"axis":{"orient":"left","offset":-189,"title":"Relative abundance","values":[0,0.05,0.1,0.15,0.2],"format":".2f"}}}},{"mark":{"type":"bar"}}]},
{"data":{"name":"fig8"},"transform":[{"filter":"datum.panel==='B'"}],"encoding":{"x":{"field":"group","type":"nominal","scale":{"type":"band","domain":["Control","OVA","LK","OVA+LK"],"range":[543.5,809.5],"paddingInner":0.3,"paddingOuter":0.15},"axis":{"orient":"bottom","offset":-730,"title":null,"labelAngle":-45,"labelFontStyle":"italic","labelFontSize":13,"tickSize":6}},"y":{"field":"mean","type":"quantitative","stack":null,"scale":{"domain":[0,0.003],"range":[1475,1298]},"axis":{"orient":"left","offset":-541.5,"title":"Relative abundance","values":[0,0.001,0.002,0.003],"format":".3f"}},"color":{"field":"group","type":"nominal","scale":{"domain":["Control","OVA","LK","OVA+LK"],"range":["#5ab51e","#2200f5","#cc1a1a","#4b0082"]},"legend":null}},"layer":[{"mark":{"type":"rule","strokeWidth":1.6},"encoding":{"y2":{"field":"err"}}},{"mark":{"type":"tick","size":22,"thickness":2},"encoding":{"y":{"field":"err","type":"quantitative","scale":{"domain":[0,0.003],"range":[1475,1298]},"axis":{"orient":"left","offset":-541.5,"title":"Relative abundance","values":[0,0.001,0.002,0.003],"format":".3f"}}}},{"mark":{"type":"bar"}}]},
{"data":{"name":"fig8"},"transform":[{"filter":"datum.panel==='C'"}],"encoding":{"x":{"field":"group","type":"nominal","scale":{"type":"band","domain":["Control","OVA","LK","OVA+LK"],"range":[891.7,1158],"paddingInner":0.3,"paddingOuter":0.15},"axis":{"orient":"bottom","offset":-730,"title":null,"labelAngle":-45,"labelFontStyle":"italic","labelFontSize":13,"tickSize":6}},"y":{"field":"mean","type":"quantitative","stack":null,"scale":{"domain":[0,0.006],"range":[1475,1298]},"axis":{"orient":"left","offset":-891,"title":"Relative abundance","values":[0,0.002,0.004,0.006],"format":".3f"}},"color":{"field":"group","type":"nominal","scale":{"domain":["Control","OVA","LK","OVA+LK"],"range":["#5ab51e","#2200f5","#cc1a1a","#4b0082"]},"legend":null}},"layer":[{"mark":{"type":"rule","strokeWidth":1.6},"encoding":{"y2":{"field":"err"}}},{"mark":{"type":"tick","size":22,"thickness":2},"encoding":{"y":{"field":"err","type":"quantitative","scale":{"domain":[0,0.006],"range":[1475,1298]},"axis":{"orient":"left","offset":-891,"title":"Relative abundance","values":[0,0.002,0.004,0.006],"format":".3f"}}}},{"mark":{"type":"bar"}}]},
{"data":{"name":"fig8"},"transform":[{"filter":"datum.panel==='D'"}],"encoding":{"x":{"field":"group","type":"nominal","scale":{"type":"band","domain":["Control","OVA","LK","OVA+LK"],"range":[1257.3,1523],"paddingInner":0.3,"paddingOuter":0.15},"axis":{"orient":"bottom","offset":-730,"title":null,"labelAngle":-45,"labelFontStyle":"italic","labelFontSize":13,"tickSize":6}},"y":{"field":"mean","type":"quantitative","stack":null,"scale":{"domain":[0,0.0004],"range":[1475,1298]},"axis":{"orient":"left","offset":-1258,"title":"Relative abundance","values":[0,0.0001,0.0002,0.0003,0.0004],"format":".4f"}},"color":{"field":"group","type":"nominal","scale":{"domain":["Control","OVA","LK","OVA+LK"],"range":["#5ab51e","#2200f5","#cc1a1a","#4b0082"]},"legend":null}},"layer":[{"mark":{"type":"rule","strokeWidth":1.6},"encoding":{"y2":{"field":"err"}}},{"mark":{"type":"tick","size":22,"thickness":2},"encoding":{"y":{"field":"err","type":"quantitative","scale":{"domain":[0,0.0004],"range":[1475,1298]},"axis":{"orient":"left","offset":-1258,"title":"Relative abundance","values":[0,0.0001,0.0002,0.0003,0.0004],"format":".4f"}}}},{"mark":{"type":"bar"}}]},
{"data":{"name":"fig8"},"transform":[{"filter":"datum.panel==='E'"}],"encoding":{"x":{"field":"group","type":"nominal","scale":{"type":"band","domain":["Control","OVA","LK","OVA+LK"],"range":[193.8,459.4],"paddingInner":0.3,"paddingOuter":0.15},"axis":{"orient":"bottom","offset":-434,"title":null,"labelAngle":-45,"labelFontStyle":"italic","labelFontSize":13,"tickSize":6}},"y":{"field":"mean","type":"quantitative","stack":null,"scale":{"domain":[0,0.006],"range":[1771,1594.3]},"axis":{"orient":"left","offset":-193.5,"title":"Relative abundance","values":[0,0.002,0.004,0.006],"format":".3f"}},"color":{"field":"group","type":"nominal","scale":{"domain":["Control","OVA","LK","OVA+LK"],"range":["#5ab51e","#2200f5","#cc1a1a","#4b0082"]},"legend":null}},"layer":[{"mark":{"type":"rule","strokeWidth":1.6},"encoding":{"y2":{"field":"err"}}},{"mark":{"type":"tick","size":22,"thickness":2},"encoding":{"y":{"field":"err","type":"quantitative","scale":{"domain":[0,0.006],"range":[1771,1594.3]},"axis":{"orient":"left","offset":-193.5,"title":"Relative abundance","values":[0,0.002,0.004,0.006],"format":".3f"}}}},{"mark":{"type":"bar"}}]},
{"data":{"name":"fig8"},"transform":[{"filter":"datum.panel==='F'"}],"encoding":{"x":{"field":"group","type":"nominal","scale":{"type":"band","domain":["Control","OVA","LK","OVA+LK"],"range":[543.5,809.5],"paddingInner":0.3,"paddingOuter":0.15},"axis":{"orient":"bottom","offset":-434,"title":null,"labelAngle":-45,"labelFontStyle":"italic","labelFontSize":13,"tickSize":6}},"y":{"field":"mean","type":"quantitative","stack":null,"scale":{"domain":[0,0.02],"range":[1771,1594.3]},"axis":{"orient":"left","offset":-541.5,"title":"Relative abundance","values":[0,0.005,0.01,0.015,0.02],"format":".3f"}},"color":{"field":"group","type":"nominal","scale":{"domain":["Control","OVA","LK","OVA+LK"],"range":["#5ab51e","#2200f5","#cc1a1a","#4b0082"]},"legend":null}},"layer":[{"mark":{"type":"rule","strokeWidth":1.6},"encoding":{"y2":{"field":"err"}}},{"mark":{"type":"tick","size":22,"thickness":2},"encoding":{"y":{"field":"err","type":"quantitative","scale":{"domain":[0,0.02],"range":[1771,1594.3]},"axis":{"orient":"left","offset":-541.5,"title":"Relative abundance","values":[0,0.005,0.01,0.015,0.02],"format":".3f"}}}},{"mark":{"type":"bar"}}]},
{"data":{"name":"fig8"},"transform":[{"filter":"datum.panel==='G'"}],"encoding":{"x":{"field":"group","type":"nominal","scale":{"type":"band","domain":["Control","OVA","LK","OVA+LK"],"range":[891.7,1158],"paddingInner":0.3,"paddingOuter":0.15},"axis":{"orient":"bottom","offset":-434,"title":null,"labelAngle":-45,"labelFontStyle":"italic","labelFontSize":13,"tickSize":6}},"y":{"field":"mean","type":"quantitative","stack":null,"scale":{"domain":[0,0.015],"range":[1771,1594.3]},"axis":{"orient":"left","offset":-891,"title":"Relative abundance","values":[0,0.005,0.01,0.015],"format":".3f"}},"color":{"field":"group","type":"nominal","scale":{"domain":["Control","OVA","LK","OVA+LK"],"range":["#5ab51e","#2200f5","#cc1a1a","#4b0082"]},"legend":null}},"layer":[{"mark":{"type":"rule","strokeWidth":1.6},"encoding":{"y2":{"field":"err"}}},{"mark":{"type":"tick","size":22,"thickness":2},"encoding":{"y":{"field":"err","type":"quantitative","scale":{"domain":[0,0.015],"range":[1771,1594.3]},"axis":{"orient":"left","offset":-891,"title":"Relative abundance","values":[0,0.005,0.01,0.015],"format":".3f"}}}},{"mark":{"type":"bar"}}]},
{"data":{"name":"fig8"},"transform":[{"filter":"datum.panel==='H'"}],"encoding":{"x":{"field":"group","type":"nominal","scale":{"type":"band","domain":["Control","OVA","LK","OVA+LK"],"range":[1257.3,1523],"paddingInner":0.3,"paddingOuter":0.15},"axis":{"orient":"bottom","offset":-434,"title":null,"labelAngle":-45,"labelFontStyle":"italic","labelFontSize":13,"tickSize":6}},"y":{"field":"mean","type":"quantitative","stack":null,"scale":{"domain":[0,0.06],"range":[1771,1594.3]},"axis":{"orient":"left","offset":-1258,"title":"Relative abundance","values":[0,0.02,0.04,0.06],"format":".2f"}},"color":{"field":"group","type":"nominal","scale":{"domain":["Control","OVA","LK","OVA+LK"],"range":["#5ab51e","#2200f5","#cc1a1a","#4b0082"]},"legend":null}},"layer":[{"mark":{"type":"rule","strokeWidth":1.6},"encoding":{"y2":{"field":"err"}}},{"mark":{"type":"tick","size":22,"thickness":2},"encoding":{"y":{"field":"err","type":"quantitative","scale":{"domain":[0,0.06],"range":[1771,1594.3]},"axis":{"orient":"left","offset":-1258,"title":"Relative abundance","values":[0,0.02,0.04,0.06],"format":".2f"}}}},{"mark":{"type":"bar"}}]},

{"encoding":{"x":{"field":"x","type":"quantitative","scale":{"domain":[0,1568],"range":[120,840]},"axis":null},"y":{"field":"y","type":"quantitative","scale":{"domain":[0,990],"range":[1230,1560]},"axis":null}},"layer":[
{"data":{"values":[{"x":221,"y":295,"x2":221,"y2":270},{"x":221,"y":270,"x2":369,"y2":270},{"x":369,"y":270,"x2":369,"y2":295},{"x":372,"y":250,"x2":372,"y2":226},{"x":372,"y":226,"x2":660,"y2":226},{"x":660,"y":226,"x2":660,"y2":250}]},"mark":{"type":"rule","color":"black","strokeWidth":1.3},"encoding":{"x2":{"field":"x2"},"y2":{"field":"y2"}}},
{"data":{"values":[{"x":298,"y":247,"t":"p=0.008"},{"x":510,"y":190,"t":"p=0.005"}]},"mark":{"type":"text","font":"Liberation Sans","fontWeight":"bold","fontSize":12.5,"align":"center","baseline":"middle","color":"black"},"encoding":{"text":{"field":"t"}}}]},
{"encoding":{"x":{"field":"x","type":"quantitative","scale":{"domain":[0,1568],"range":[830,1550]},"axis":null},"y":{"field":"y","type":"quantitative","scale":{"domain":[0,990],"range":[1230,1560]},"axis":null}},"layer":[
{"data":{"values":[{"x":204,"y":295,"x2":204,"y2":270},{"x":204,"y":270,"x2":350,"y2":270},{"x":350,"y":270,"x2":350,"y2":295},{"x":355,"y":250,"x2":355,"y2":226},{"x":355,"y":226,"x2":642,"y2":226},{"x":642,"y":226,"x2":642,"y2":250},{"x":1000,"y":263,"x2":1000,"y2":239},{"x":1000,"y":239,"x2":1147,"y2":239},{"x":1147,"y":239,"x2":1147,"y2":263},{"x":1151,"y":217,"x2":1151,"y2":193},{"x":1151,"y":193,"x2":1438,"y2":193},{"x":1438,"y":193,"x2":1438,"y2":217}]},"mark":{"type":"rule","color":"black","strokeWidth":1.3},"encoding":{"x2":{"field":"x2"},"y2":{"field":"y2"}}},
{"data":{"values":[{"x":280,"y":247,"t":"p=0.027"},{"x":491,"y":190,"t":"p=0.019"},{"x":1075,"y":214,"t":"p=0.009"},{"x":1287,"y":160,"t":"p=0.026"}]},"mark":{"type":"text","font":"Liberation Sans","fontWeight":"bold","fontSize":12.5,"align":"center","baseline":"middle","color":"black"},"encoding":{"text":{"field":"t"}}}]},
{"encoding":{"x":{"field":"x","type":"quantitative","scale":{"domain":[0,1568],"range":[120,840]},"axis":null},"y":{"field":"y","type":"quantitative","scale":{"domain":[0,990],"range":[1530,1860]},"axis":null}},"layer":[
{"data":{"values":[{"x":230,"y":222,"x2":230,"y2":196},{"x":230,"y":196,"x2":365,"y2":196},{"x":365,"y":196,"x2":365,"y2":275},{"x":368,"y":432,"x2":368,"y2":304},{"x":368,"y":304,"x2":667,"y2":304},{"x":667,"y":304,"x2":667,"y2":372},{"x":997,"y":440,"x2":997,"y2":415},{"x":997,"y":415,"x2":1133,"y2":415},{"x":1133,"y":415,"x2":1133,"y2":497},{"x":1131,"y":338,"x2":1131,"y2":209},{"x":1131,"y":209,"x2":1428,"y2":209},{"x":1428,"y":209,"x2":1428,"y2":235}]},"mark":{"type":"rule","color":"black","strokeWidth":1.3},"encoding":{"x2":{"field":"x2"},"y2":{"field":"y2"}}},
{"data":{"values":[{"x":305,"y":172,"t":"p=0.005"},{"x":520,"y":278,"t":"p=0.020"},{"x":1073,"y":387,"t":"p=0.020"},{"x":1278,"y":182,"t":"p=0.008"}]},"mark":{"type":"text","font":"Liberation Sans","fontWeight":"bold","fontSize":12.5,"align":"center","baseline":"middle","color":"black"},"encoding":{"text":{"field":"t"}}}]},
{"encoding":{"x":{"field":"x","type":"quantitative","scale":{"domain":[0,1568],"range":[830,1550]},"axis":null},"y":{"field":"y","type":"quantitative","scale":{"domain":[0,990],"range":[1530,1860]},"axis":null}},"layer":[
{"data":{"values":[{"x":216,"y":480,"x2":216,"y2":231},{"x":216,"y":231,"x2":643,"y2":231},{"x":643,"y":231,"x2":643,"y2":255},{"x":346,"y":410,"x2":346,"y2":283},{"x":346,"y":283,"x2":643,"y2":283},{"x":643,"y":283,"x2":643,"y2":300},{"x":1012,"y":428,"x2":1012,"y2":177},{"x":1012,"y":177,"x2":1438,"y2":177},{"x":1438,"y":177,"x2":1438,"y2":202},{"x":1143,"y":358,"x2":1143,"y2":232},{"x":1143,"y":232,"x2":1440,"y2":232},{"x":1440,"y":232,"x2":1440,"y2":250}]},"mark":{"type":"rule","color":"black","strokeWidth":1.3},"encoding":{"x2":{"field":"x2"},"y2":{"field":"y2"}}},
{"data":{"values":[{"x":406,"y":195,"t":"p=0.030"},{"x":490,"y":260,"t":"p=0.013"},{"x":1202,"y":143,"t":"p=0.030"},{"x":1286,"y":207,"t":"p=0.013"}]},"mark":{"type":"text","font":"Liberation Sans","fontWeight":"bold","fontSize":12.5,"align":"center","baseline":"middle","color":"black"},"encoding":{"text":{"field":"t"}}}]},

{"data":{"values":[{"x":15,"y":58,"t":"Fig. 7."}]},"mark":{"type":"text","font":"Liberation Serif","fontWeight":"bold","fontSize":21.8,"align":"left","baseline":"middle","color":"black"},"encoding":{"x":{"field":"x","type":"quantitative","scale":{"domain":[0,1557],"range":[90,1590]},"axis":null},"y":{"field":"y","type":"quantitative","scale":{"domain":[0,390],"range":[1090,1220]},"axis":null},"text":{"field":"t"}}},
{"data":{"values":[{"x":85,"y":58,"t":"Differentially abundant taxa among the four groups. Differential taxa among different groups identified by linear discriminant analysis effect size (LEfSe) (A)"},{"x":15,"y":138,"t":"with linear discriminant"},{"x":250,"y":138,"t":"analysis (LDA) values (B)."},{"x":508,"y":138,"t":"The relative abundances of"},{"x":775,"y":138,"t":"taxa enriched in different"},{"x":1030,"y":138,"t":"groups at the phylum"},{"x":1230,"y":138,"t":"level identified by LEfSe were"},{"x":15,"y":218,"t":"calculated (C). n = 6 in each group. Nonparametric Mann–Whitney test was used, and"},{"x":825,"y":218,"t":"< 0.05 was considered statistically significant. *"},{"x":1290,"y":218,"t":"< 0.05 versus the control"},{"x":15,"y":298,"t":"group and #"},{"x":150,"y":298,"t":"< 0.05 versus the OVA group."}]},"mark":{"type":"text","font":"Liberation Serif","fontSize":21.8,"align":"left","baseline":"middle","color":"black"},"encoding":{"x":{"field":"x","type":"quantitative","scale":{"domain":[0,1557],"range":[90,1590]},"axis":null},"y":{"field":"y","type":"quantitative","scale":{"domain":[0,390],"range":[1090,1220]},"axis":null},"text":{"field":"t"}}},
{"data":{"values":[{"x":800,"y":218,"t":"P"},{"x":1265,"y":218,"t":"P"},{"x":128,"y":298,"t":"P"}]},"mark":{"type":"text","font":"Liberation Serif","fontStyle":"italic","fontSize":21.8,"align":"left","baseline":"middle","color":"black"},"encoding":{"x":{"field":"x","type":"quantitative","scale":{"domain":[0,1557],"range":[90,1590]},"axis":null},"y":{"field":"y","type":"quantitative","scale":{"domain":[0,390],"range":[1090,1220]},"axis":null},"text":{"field":"t"}}},

{"data":{"values":[{"x":15,"y":42,"t":"Fig. 8."}]},"mark":{"type":"text","font":"Liberation Serif","fontWeight":"bold","fontSize":21.8,"align":"left","baseline":"middle","color":"black"},"encoding":{"x":{"field":"x","type":"quantitative","scale":{"domain":[0,1557],"range":[90,1590]},"axis":null},"y":{"field":"y","type":"quantitative","scale":{"domain":[0,870],"range":[1840,2130]},"axis":null},"text":{"field":"t"}}},
{"data":{"values":[{"x":83,"y":42,"t":"The relative abundances of different genera enriched in different groups. (A) Genus"},{"x":962,"y":42,"t":"(B) genus"},{"x":1236,"y":42,"t":"(C) genus"},{"x":1430,"y":42,"t":"XVIII, (D)"},{"x":15,"y":123,"t":"genus"},{"x":218,"y":123,"t":"(E) genus"},{"x":447,"y":123,"t":"(F) genus"},{"x":665,"y":123,"t":"(G) genus"},{"x":890,"y":123,"t":"and (H) genus"},{"x":1135,"y":123,"t":"XIVa. n = 6 in each group. Nonparametric"},{"x":15,"y":200,"t":"Mann–Whitney test was used, and"},{"x":362,"y":200,"t":"< 0.05 was considered statistically significant. *"},{"x":838,"y":200,"t":"< 0.05 versus the control group and #"},{"x":1225,"y":200,"t":"< 0.05 versus the OVA group."}]},"mark":{"type":"text","font":"Liberation Serif","fontSize":20.8,"align":"left","baseline":"middle","color":"black"},"encoding":{"x":{"field":"x","type":"quantitative","scale":{"domain":[0,1557],"range":[90,1590]},"axis":null},"y":{"field":"y","type":"quantitative","scale":{"domain":[0,870],"range":[1840,2130]},"axis":null},"text":{"field":"t"}}},
{"data":{"values":[{"x":850,"y":42,"t":"Bacteroides,"},{"x":1052,"y":42,"t":"Falsiporphyromonas,"},{"x":1326,"y":42,"t":"Clostridium"},{"x":73,"y":123,"t":"Staphylococcus,"},{"x":312,"y":123,"t":"Vampirovibrio,"},{"x":540,"y":123,"t":"Acetatifactor,"},{"x":760,"y":123,"t":"Mucispirillum,"},{"x":1028,"y":123,"t":"Clostridium"},{"x":340,"y":200,"t":"P"},{"x":815,"y":200,"t":"P"},{"x":1200,"y":200,"t":"P"}]},"mark":{"type":"text","font":"Liberation Serif","fontStyle":"italic","fontSize":20,"align":"left","baseline":"middle","color":"black"},"encoding":{"x":{"field":"x","type":"quantitative","scale":{"domain":[0,1557],"range":[90,1590]},"axis":null},"y":{"field":"y","type":"quantitative","scale":{"domain":[0,870],"range":[1840,2130]},"axis":null},"text":{"field":"t"}}},
{"data":{"values":[{"x":15,"y":400,"t":"corresponding lymphoid tissues (","k":"text"},{"x":357,"y":400,"t":"Cerovic et al., 2014; Mowat & Agace,","k":"link"},{"x":15,"y":488,"t":"2014","k":"link"},{"x":68,"y":488,"t":"). CD103⁺ DCs have the characteristics of general DCs in that they","k":"text"},{"x":15,"y":577,"t":"inhabit PPs or the LP of the small and large intestine and migrate to the","k":"text"},{"x":15,"y":665,"t":"MLN but present tolerogenic properties in allergic diseases (","k":"text"},{"x":640,"y":665,"t":"Rescigno,","k":"link"},{"x":797,"y":400,"t":"2014; Smit et al., 2011","k":"link"},{"x":1037,"y":400,"t":"). Intestine-derived CD103⁺ DCs have been re-","k":"text"},{"x":797,"y":488,"t":"ported to present feeding","k":"text"},{"x":1068,"y":488,"t":"antigens to induce","k":"text"},{"x":1272,"y":488,"t":"FoxP3⁺ Tregs","k":"text"},{"x":1430,"y":488,"t":"in the in-","k":"text"},{"x":797,"y":577,"t":"testine and play a key role in maintaining oral tolerance (","k":"text"},{"x":1378,"y":577,"t":"Denning et al.,","k":"link"},{"x":797,"y":665,"t":"2011;","k":"link"},{"x":870,"y":665,"t":"Tu","k":"link"},{"x":925,"y":665,"t":"et al.,","k":"link"},{"x":990,"y":665,"t":"2017;","k":"link"},{"x":1063,"y":665,"t":"Yamazaki","k":"link"},{"x":1177,"y":665,"t":"&","k":"link"},{"x":1207,"y":665,"t":"Morita,","k":"link"},{"x":1297,"y":665,"t":"2013","k":"link"},{"x":1352,"y":665,"t":").","k":"text"},{"x":1380,"y":665,"t":"However,","k":"text"},{"x":1493,"y":665,"t":"the","k":"text"}]},"mark":{"type":"text","font":"Liberation Serif","fontSize":24.2,"align":"left","baseline":"middle"},"encoding":{"x":{"field":"x","type":"quantitative","scale":{"domain":[0,1557],"range":[90,1590]},"axis":null},"y":{"field":"y","type":"quantitative","scale":{"domain":[0,870],"range":[1840,2130]},"axis":null},"text":{"field":"t"},"color":{"field":"k","type":"nominal","scale":{"domain":["text","link"],"range":["#000000","#2a7ba8"]},"legend":null}}},
{"data":{"values":[{"x":758,"y":845,"t":"72"}]},"mark":{"type":"text","font":"Liberation Serif","fontSize":20,"align":"left","baseline":"middle","color":"black"},"encoding":{"x":{"field":"x","type":"quantitative","scale":{"domain":[0,1557],"range":[90,1590]},"axis":null},"y":{"field":"y","type":"quantitative","scale":{"domain":[0,870],"range":[1840,2130]},"axis":null},"text":{"field":"t"}}}
]}
